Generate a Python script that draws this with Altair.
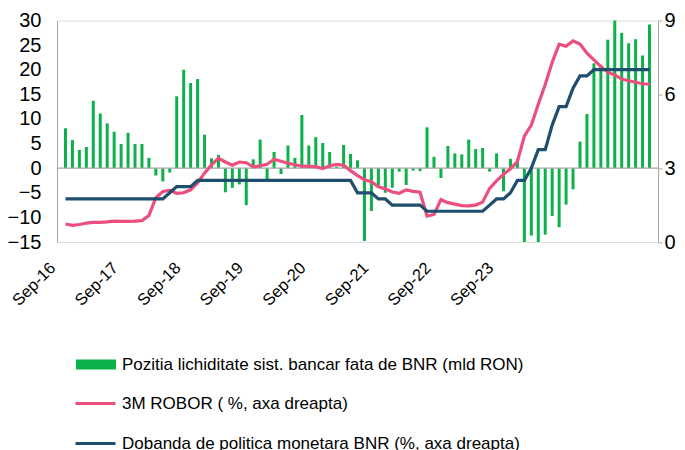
import json
import altair as alt
import pandas as pd

# ---- data (monthly, Sep-16 .. Sep-23) ----
lichiditate = [8.1, 5.7, 3.7, 4.3, 13.7, 11.1, 9.1, 7.4, 4.9, 7.2, 4.9, 4.9, 2.1,
               -1.5, -2.7, -0.9, 14.6, 20.0, 17.3, 18.1, 6.8, 2.0, 2.7, -4.9, -4.0,
               -3.3, -7.5, 1.8, 5.8, -2.3, 3.3, -1.2, 4.6, 2.1, 10.8, 4.6, 6.3, 5.1,
               3.3, 0.3, 4.7, 2.9, 1.6, -14.8, -8.7, -4.0, -5.0, -4.0, -0.7, -3.4,
               -0.5, -0.6, 8.3, 2.3, -2.0, 4.5, 3.0, 2.8, 5.8, 3.9, 4.1, -0.7, 3.0,
               -4.7, 1.9, 1.9, -15.0, -13.7, -15.0, -13.5, -9.7, -12.0, -7.4, -4.3,
               5.4, 11.0, 21.3, 21.0, 26.1, 30.0, 27.5, 25.4, 26.2, 22.9, 29.2]

robor = [0.73, 0.68, 0.71, 0.77, 0.80, 0.80, 0.82, 0.85, 0.84, 0.84, 0.85, 0.87,
         1.08, 1.80, 2.05, 2.10, 1.98, 2.00, 2.12, 2.40, 2.80, 3.13, 3.40, 3.25,
         3.12, 3.25, 3.22, 3.05, 3.10, 3.16, 3.36, 3.28, 3.20, 3.14, 3.08, 3.07,
         3.06, 2.98, 3.10, 3.15, 3.12, 2.90, 2.70, 2.53, 2.45, 2.24, 2.16, 2.03,
         1.98, 2.12, 2.06, 2.02, 1.05, 1.12, 1.72, 1.60, 1.54, 1.48, 1.47, 1.50,
         1.62, 2.18, 2.48, 2.75, 2.97, 3.27, 4.30, 4.75, 5.60, 6.40, 7.30, 8.04,
         7.95, 8.17, 8.04, 7.67, 7.40, 7.13, 6.90, 6.79, 6.62, 6.55, 6.49, 6.43,
         6.41]

dobanda = [1.75] * 15 + [2.0] + [2.25] * 3 + [2.5] * 23 + [2.0] * 3 + [1.75] * 2 \
    + [1.5] * 5 + [1.25] * 9 + [1.5] + [1.75] * 2 + [2.0] + [2.5] * 2 + [3.0] \
    + [3.75] * 2 + [4.75] + [5.5] * 2 + [6.25] + [6.75] * 2 + [7.0] * 9

month_index = list(range(len(lichiditate)))

x_tick_index = [0, 9, 18, 27, 36, 45, 54, 63]
x_tick_labels = ["Sep-16", "Sep-17", "Sep-18", "Sep-19", "Sep-20", "Sep-21",
                 "Sep-22", "Sep-23"]

left_ticks = [-15, -10, -5, 0, 5, 10, 15, 20, 25, 30]
right_ticks = [0, 3, 6, 9]

name_bar = "Pozitia lichiditate sist. bancar fata de BNR (mld RON)"
name_robor = "3M ROBOR ( %, axa dreapta)"
name_dob = "Dobanda de politica monetara BNR (%, axa dreapta)"

GREEN = "#0DB14B"
PINK = "#EC4E7E"
BLUE = "#1F4E6E"
GREY = "#A6A6A6"
FONT = "Liberation Sans"

df = pd.DataFrame({"i": month_index, "lichiditate": lichiditate,
                   "robor": robor, "dobanda": dobanda,
                   "s_bar": name_bar, "s_robor": name_robor, "s_dob": name_dob})
zero_df = pd.DataFrame({"z": [0]})

label_expr = f"{json.dumps(x_tick_labels)}[indexof({json.dumps(x_tick_index)}, datum.value)]"

x_scale = alt.Scale(domain=[-0.5, len(month_index) - 0.5], nice=False, zero=False)
x_axis = alt.Axis(values=x_tick_index, labelExpr=label_expr, labelAngle=-45,
                  labelAlign="right", labelBaseline="middle", labelOffset=-13,
                  labelPadding=23, labelFontSize=16.5, labelColor="black",
                  labelFont=FONT, labelOverlap=False, labelFlush=False,
                  domain=False, ticks=False, grid=False, title=None)
X = alt.X("i:Q", scale=x_scale, axis=x_axis)

left_scale = alt.Scale(domain=[-15, 30], nice=False)
left_axis = alt.Axis(values=left_ticks, orient="left", domain=True, domainColor=GREY,
                     ticks=False, labelPadding=16, labelFontSize=20,
                     labelColor="black", labelFont=FONT, grid=False, title=None)

right_scale = alt.Scale(domain=[0, 9], nice=False)
right_axis = alt.Axis(values=right_ticks, orient="right", domain=True,
                      domainColor=GREY, ticks=True, tickColor=GREY, tickSize=4,
                      labelPadding=2, labelFontSize=20, labelColor="black",
                      labelFont=FONT, grid=False, title=None)

fill_legend = alt.Legend(title=None, orient="none", legendX=19, legendY=324,
                         symbolType="M-1,-0.25H1V0.25H-1Z", symbolSize=1600,
                         symbolStrokeWidth=0, labelFontSize=17, labelFont=FONT,
                         labelColor="black", labelOffset=6, labelLimit=700)
stroke_legend = alt.Legend(title=None, orient="none", legendX=17, legendY=364,
                           symbolType="stroke", symbolSize=1600,
                           symbolStrokeWidth=3, clipHeight=38, labelFontSize=17,
                           labelFont=FONT, labelColor="black", labelOffset=5,
                           labelLimit=700)
stroke_scale = alt.Scale(domain=[name_robor, name_dob], range=[PINK, BLUE])

bars = alt.Chart(df).mark_bar(size=3).encode(
    x=X,
    y=alt.Y("lichiditate:Q", scale=left_scale, axis=left_axis),
    y2=alt.Y2(datum=0),
    fill=alt.Fill("s_bar:N", scale=alt.Scale(domain=[name_bar], range=[GREEN]),
                  legend=fill_legend),
)
zero_rule = alt.Chart(zero_df).mark_rule(color=GREY, strokeWidth=1.2).encode(
    y=alt.Y("z:Q", scale=left_scale, axis=left_axis)
)
left = alt.layer(bars, zero_rule)

pink_line = alt.Chart(df).mark_line(strokeWidth=3.2).encode(
    x=X,
    y=alt.Y("robor:Q", scale=right_scale, axis=right_axis),
    stroke=alt.Stroke("s_robor:N", scale=stroke_scale, legend=stroke_legend),
)
blue_line = alt.Chart(df).mark_line(strokeWidth=3.2).encode(
    x=X,
    y=alt.Y("dobanda:Q", scale=right_scale, axis=right_axis),
    stroke=alt.Stroke("s_dob:N", scale=stroke_scale, legend=stroke_legend),
)
right = alt.layer(pink_line, blue_line)

chart = alt.layer(left, right).resolve_scale(y="independent").properties(
    width=601, height=221.5,
    autosize=alt.AutoSizeParams(type="none"),
    padding={"left": 49, "top": 12.5, "right": 19, "bottom": 208},
).configure_view(stroke=None).configure(font=FONT)

chart.save("out.html", embed_options={"renderer": "svg", "actions": False})
